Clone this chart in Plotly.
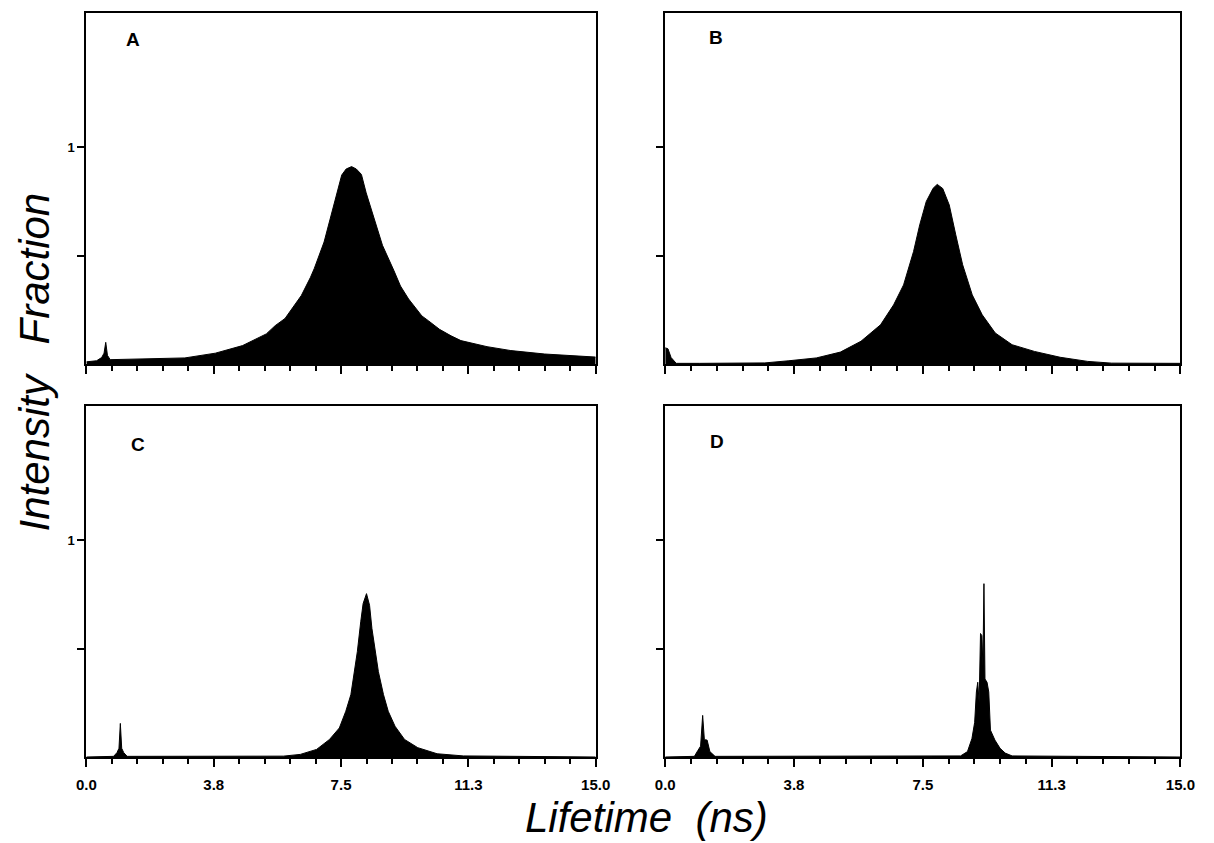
import plotly.graph_objects as go

W, H = 1214, 843

# ---- data (lifetime in ns, fraction/intensity) ----
A_t = [0.0, 0.3, 0.45, 0.52, 0.57, 0.62, 0.7, 1.5, 2.9, 3.8, 4.6, 5.3, 5.56, 5.85, 6.33,
       6.6, 6.71, 7.0, 7.19, 7.38, 7.52, 7.65, 7.81, 7.95, 8.1, 8.24, 8.44, 8.72, 9.06,
       9.25, 9.49, 9.88, 10.07, 10.4, 10.74, 11.03, 11.8, 12.5, 13.5, 14.3, 15.0]
A_v = [0.01, 0.015, 0.03, 0.05, 0.10, 0.04, 0.02, 0.023, 0.028, 0.05, 0.085, 0.139, 0.177,
       0.21, 0.316, 0.40, 0.44, 0.563, 0.68, 0.785, 0.872, 0.90, 0.911, 0.90, 0.875, 0.79,
       0.687, 0.548, 0.43, 0.36, 0.30, 0.222, 0.20, 0.16, 0.13, 0.108, 0.08, 0.062, 0.046,
       0.038, 0.032]

B_t = [0.0, 0.08, 0.17, 0.32, 1.0, 2.9, 3.6, 4.4, 5.1, 5.7, 6.27, 6.65, 6.94, 7.23, 7.41,
       7.6, 7.8, 7.92, 8.08, 8.27, 8.46, 8.66, 8.94, 9.23, 9.61, 10.1, 10.75, 11.5, 12.3,
       13.0, 15.0]
B_v = [0.075, 0.07, 0.03, 0.003, 0.003, 0.005, 0.015, 0.028, 0.055, 0.105, 0.181, 0.273,
       0.365, 0.519, 0.642, 0.75, 0.811, 0.829, 0.81, 0.734, 0.596, 0.458, 0.319, 0.227,
       0.143, 0.089, 0.058, 0.031, 0.012, 0.004, 0.003]

C_t = [0.0, 0.8, 0.9, 0.96, 1.0, 1.04, 1.1, 1.2, 5.8, 6.3, 6.78, 7.16, 7.45, 7.64, 7.79,
       7.88, 7.98, 8.08, 8.15, 8.25, 8.34, 8.41, 8.51, 8.6, 8.75, 8.89, 9.09, 9.37, 9.76,
       10.33, 11.1, 15.0]
C_v = [0.0, 0.003, 0.02, 0.04, 0.155, 0.04, 0.02, 0.003, 0.004, 0.012, 0.035, 0.081, 0.134,
       0.211, 0.288, 0.379, 0.486, 0.624, 0.708, 0.754, 0.70, 0.593, 0.486, 0.394, 0.288,
       0.211, 0.142, 0.081, 0.043, 0.015, 0.005, 0.0]

D_t = [0.0, 0.85, 0.95, 1.03, 1.09, 1.14, 1.22, 1.3, 1.45, 8.6, 8.8, 8.93, 9.01, 9.06, 9.1,
       9.14, 9.18, 9.22, 9.25, 9.28, 9.31, 9.37, 9.42, 9.47, 9.6, 9.75, 9.9, 10.1, 15.0]
D_v = [0.0, 0.003, 0.03, 0.05, 0.192, 0.08, 0.078, 0.025, 0.003, 0.005, 0.025, 0.085, 0.16,
       0.30, 0.345, 0.25, 0.57, 0.56, 0.42, 0.80, 0.36, 0.345, 0.30, 0.124, 0.078, 0.04,
       0.018, 0.005, 0.0]

PANEL_LABELS = ["A", "B", "C", "D"]
X_TICK_VALS = [0.0, 3.75, 7.5, 11.25, 15.0]
X_TICK_TEXT = ["0.0", "3.8", "7.5", "11.3", "15.0"]
Y_TICK_VALS = [0.5, 1.0]
Y_TICK_TEXT = ["", "1"]

series = [(A_t, A_v), (B_t, B_v), (C_t, C_v), (D_t, D_v)]

# ---- layout geometry (pixels) ----
def px_x(a, b):
    return [a / W, b / W]

def px_y(top, bottom):
    return [1 - bottom / H, 1 - top / H]

dom_x = [px_x(78, 598), px_x(669, 1195), px_x(78, 598), px_x(669, 1195)]
dom_y = [px_y(13, 364), px_y(13, 364), px_y(406, 757), px_y(406, 757)]
letter_pos = [(126, 40), (721, 38), (131, 444), (722, 441)]

FONT = "Liberation Sans"

fig = go.Figure()
layout = dict(
    width=W, height=H,
    margin=dict(l=0, r=0, t=0, b=0),
    paper_bgcolor="white", plot_bgcolor="white",
    showlegend=False,
)

annotations = []
for i, (t, v) in enumerate(series):
    sfx = "" if i == 0 else str(i + 1)
    fig.add_trace(go.Scatter(
        x=t, y=v, xaxis="x" + sfx, yaxis="y" + sfx, mode="lines",
        line=dict(color="black", width=1), fill="tozeroy", fillcolor="black",
        hoverinfo="skip", showlegend=False))
    bottom_row = i >= 2
    left_col = i % 2 == 0
    layout["xaxis" + sfx] = dict(
        domain=dom_x[i], anchor="y" + sfx, range=[0, 15],
        tickmode="array", tickvals=X_TICK_VALS, ticktext=X_TICK_TEXT,
        showticklabels=bottom_row,
        ticks="outside", ticklen=8, tickwidth=2, tickcolor="black",
        showline=True, linewidth=2, linecolor="black", mirror=True,
        showgrid=False, zeroline=False, fixedrange=True,
        tickfont=dict(family=FONT, size=15, color="black", weight="bold"),
        ticklabelstandoff=5,
        minor=dict(tickmode="linear", tick0=0, dtick=0.75, ticks="outside",
                   ticklen=5, tickwidth=1.5, tickcolor="black", showgrid=False),
    )
    layout["yaxis" + sfx] = dict(
        domain=dom_y[i], anchor="x" + sfx, range=[0, 1.62],
        tickmode="array", tickvals=Y_TICK_VALS, ticktext=Y_TICK_TEXT,
        showticklabels=left_col,
        ticks="outside", ticklen=7, tickwidth=2, tickcolor="black",
        showline=True, linewidth=2, linecolor="black", mirror=True,
        showgrid=False, zeroline=False, fixedrange=True,
        tickfont=dict(family=FONT, size=13, color="black", weight="bold"),
    )
    lx, ly = letter_pos[i]
    annotations.append(dict(
        text=PANEL_LABELS[i], x=lx / W, y=1 - ly / H, xref="paper", yref="paper",
        showarrow=False, xanchor="center", yanchor="middle",
        font=dict(family=FONT, size=19, color="black", weight="bold")))

annotations += [
    dict(text="<i>Fraction</i>", x=25 / W, y=1 - 268 / H, xref="paper", yref="paper",
         showarrow=False, textangle=-90, xanchor="center", yanchor="middle",
         font=dict(family=FONT, size=42, color="black")),
    dict(text="<i>Intensity</i>", x=25 / W, y=1 - 452 / H, xref="paper", yref="paper",
         showarrow=False, textangle=-90, xanchor="center", yanchor="middle",
         font=dict(family=FONT, size=42, color="black")),
    dict(text="<i>Lifetime  (ns)</i>", x=650 / W, y=0, xref="paper", yref="paper",
         showarrow=False, xanchor="center", yanchor="bottom",
         font=dict(family=FONT, size=42, color="black")),
]
layout["annotations"] = annotations
fig.update_layout(**layout)

fig.write_html("out.html")
